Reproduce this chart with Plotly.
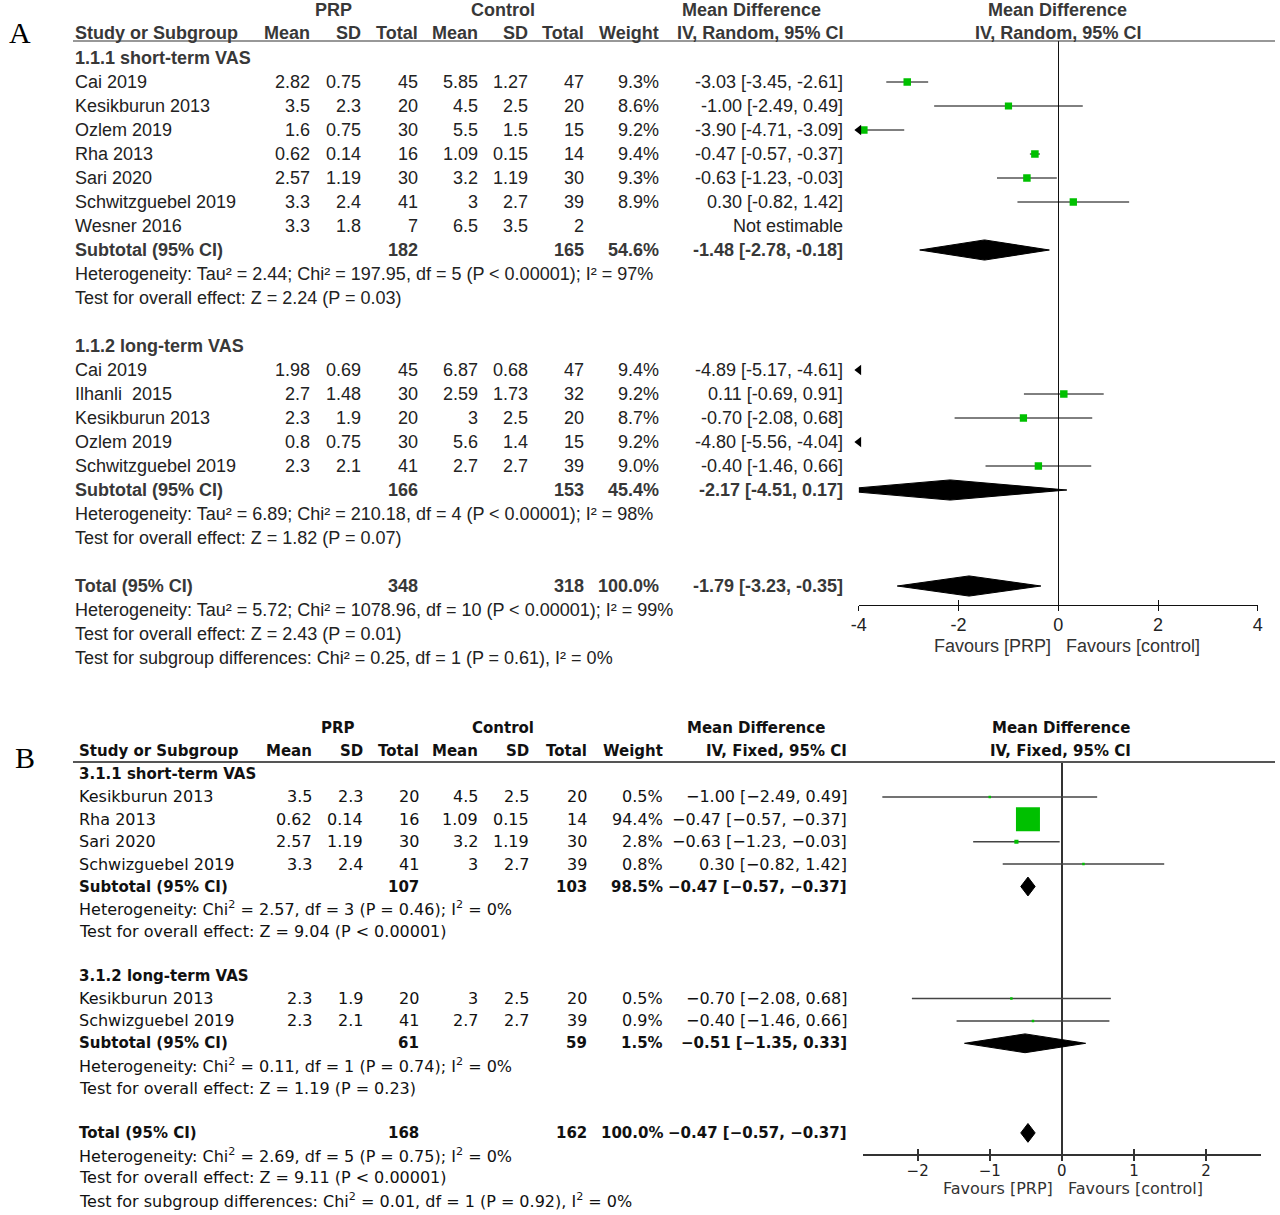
import math
import plotly.graph_objects as go

# ================= DATA =================
# ---- Panel A : random effects ----
A_short_study = ["Cai 2019", "Kesikburun 2013", "Ozlem 2019", "Rha 2013", "Sari 2020",
                 "Schwitzguebel 2019", "Wesner 2016"]
A_short_prp_mean = [2.82, 3.5, 1.6, 0.62, 2.57, 3.3, 3.3]
A_short_prp_sd = [0.75, 2.3, 0.75, 0.14, 1.19, 2.4, 1.8]
A_short_prp_n = [45, 20, 30, 16, 30, 41, 7]
A_short_ctl_mean = [5.85, 4.5, 5.5, 1.09, 3.2, 3, 6.5]
A_short_ctl_sd = [1.27, 2.5, 1.5, 0.15, 1.19, 2.7, 3.5]
A_short_ctl_n = [47, 20, 15, 14, 30, 39, 2]
A_short_weight = [9.3, 8.6, 9.2, 9.4, 9.3, 8.9, None]
A_short_md = [-3.03, -1.00, -3.90, -0.47, -0.63, 0.30, None]
A_short_lo = [-3.45, -2.49, -4.71, -0.57, -1.23, -0.82, None]
A_short_hi = [-2.61, 0.49, -3.09, -0.37, -0.03, 1.42, None]

A_long_study = ["Cai 2019", "Ilhanli\u00a0 2015", "Kesikburun 2013", "Ozlem 2019", "Schwitzguebel 2019"]
A_long_prp_mean = [1.98, 2.7, 2.3, 0.8, 2.3]
A_long_prp_sd = [0.69, 1.48, 1.9, 0.75, 2.1]
A_long_prp_n = [45, 30, 20, 30, 41]
A_long_ctl_mean = [6.87, 2.59, 3, 5.6, 2.7]
A_long_ctl_sd = [0.68, 1.73, 2.5, 1.4, 2.7]
A_long_ctl_n = [47, 32, 20, 15, 39]
A_long_weight = [9.4, 9.2, 8.7, 9.2, 9.0]
A_long_md = [-4.89, 0.11, -0.70, -4.80, -0.40]
A_long_lo = [-5.17, -0.69, -2.08, -5.56, -1.46]
A_long_hi = [-4.61, 0.91, 0.68, -4.04, 0.66]

# subtotal short, subtotal long, total
A_sum_label = ["Subtotal (95% CI)", "Subtotal (95% CI)", "Total (95% CI)"]
A_sum_prp_n = [182, 166, 348]
A_sum_ctl_n = [165, 153, 318]
A_sum_weight = [54.6, 45.4, 100.0]
A_sum_md = [-1.48, -2.17, -1.79]
A_sum_lo = [-2.78, -4.51, -3.23]
A_sum_hi = [-0.18, 0.17, -0.35]

A_groups = ["1.1.1 short-term VAS", "1.1.2 long-term VAS"]
A_stats = [
    "Heterogeneity: Tau² = 2.44; Chi² = 197.95, df = 5 (P &lt; 0.00001); I² = 97%",
    "Test for overall effect: Z = 2.24 (P = 0.03)",
    "Heterogeneity: Tau² = 6.89; Chi² = 210.18, df = 4 (P &lt; 0.00001); I² = 98%",
    "Test for overall effect: Z = 1.82 (P = 0.07)",
    "Heterogeneity: Tau² = 5.72; Chi² = 1078.96, df = 10 (P &lt; 0.00001); I² = 99%",
    "Test for overall effect: Z = 2.43 (P = 0.01)",
    "Test for subgroup differences: Chi² = 0.25, df = 1 (P = 0.61), I² = 0%",
]
A_ticks = [-4, -2, 0, 2, 4]
A_ticktext = ["-4", "-2", "0", "2", "4"]

# ---- Panel B : fixed effects ----
B_short_study = ["Kesikburun 2013", "Rha 2013", "Sari 2020", "Schwizguebel 2019"]
B_short_prp_mean = [3.5, 0.62, 2.57, 3.3]
B_short_prp_sd = [2.3, 0.14, 1.19, 2.4]
B_short_prp_n = [20, 16, 30, 41]
B_short_ctl_mean = [4.5, 1.09, 3.2, 3]
B_short_ctl_sd = [2.5, 0.15, 1.19, 2.7]
B_short_ctl_n = [20, 14, 30, 39]
B_short_weight = [0.5, 94.4, 2.8, 0.8]
B_short_md = [-1.00, -0.47, -0.63, 0.30]
B_short_lo = [-2.49, -0.57, -1.23, -0.82]
B_short_hi = [0.49, -0.37, -0.03, 1.42]

B_long_study = ["Kesikburun 2013", "Schwizguebel 2019"]
B_long_prp_mean = [2.3, 2.3]
B_long_prp_sd = [1.9, 2.1]
B_long_prp_n = [20, 41]
B_long_ctl_mean = [3, 2.7]
B_long_ctl_sd = [2.5, 2.7]
B_long_ctl_n = [20, 39]
B_long_weight = [0.5, 0.9]
B_long_md = [-0.70, -0.40]
B_long_lo = [-2.08, -1.46]
B_long_hi = [0.68, 0.66]

B_sum_label = ["Subtotal (95% CI)", "Subtotal (95% CI)", "Total (95% CI)"]
B_sum_prp_n = [107, 61, 168]
B_sum_ctl_n = [103, 59, 162]
B_sum_weight = [98.5, 1.5, 100.0]
B_sum_md = [-0.47, -0.51, -0.47]
B_sum_lo = [-0.57, -1.35, -0.57]
B_sum_hi = [-0.37, 0.33, -0.37]

B_groups = ["3.1.1 short-term VAS", "3.1.2 long-term VAS"]
B_stats = [
    "Heterogeneity: Chi<sup>2</sup> = 2.57, df = 3 (P = 0.46); I<sup>2</sup> = 0%",
    "Test for overall effect: Z = 9.04 (P &lt; 0.00001)",
    "Heterogeneity: Chi<sup>2</sup> = 0.11, df = 1 (P = 0.74); I<sup>2</sup> = 0%",
    "Test for overall effect: Z = 1.19 (P = 0.23)",
    "Heterogeneity: Chi<sup>2</sup> = 2.69, df = 5 (P = 0.75); I<sup>2</sup> = 0%",
    "Test for overall effect: Z = 9.11 (P &lt; 0.00001)",
    "Test for subgroup differences: Chi<sup>2</sup> = 0.01, df = 1 (P = 0.92), I<sup>2</sup> = 0%",
]
B_ticks = [-2, -1, 0, 1, 2]
B_ticktext = ["\u22122", "\u22121", "0", "1", "2"]

# ================= LAYOUT HELPERS =================
W, H = 1280, 1215
FA = "Liberation Sans, Arial, sans-serif"
FB = "DejaVu Sans, Verdana, sans-serif"
GREEN = "#00c000"
# horizontal compensation of the page capture (observed offset / scale)
X_OFF, X_SCALE = 7.0, 0.99

def px(x):
    return ((x - X_OFF) / X_SCALE) / W

def py(y):
    return 1 - y / H

ann = []

def T(x, y, s, anchor="left", font=FA, size=16, bold=False, color="#222"):
    if bold:
        s = "<b>" + s + "</b>"
    ann.append(dict(x=px(x), y=py(y), xref="paper", yref="paper", text=s, showarrow=False,
                    xanchor=anchor, yanchor="middle", align=anchor, borderpad=0, borderwidth=0,
                    font=dict(family=font, size=size, color=color)))

def g(v):
    return f"{v:g}"

def ci(m, l, h, minus="-"):
    if m is None:
        return "Not estimable"
    return (f"{m:.2f} [{l:.2f}, {h:.2f}]").replace("-", minus)

# panel configs (pixel layout)
PA = dict(font=FA, size=18, bsize=18, name_x=74, cols=[309, 360, 417, 477, 527, 583, 658, 842],
          row0=58, dy=24, minus="-", color="#222", hcolor="#383838",
          h1=10, h2=33, prp_c=333, ctl_c=502, md_c=751, fp_c=1057,
          ci_head="IV, Random, 95% CI", line_y=41, fav_y=646, fav_x=1050,
          dom_x=(858, 1257), dom_y=(41, 605), xr=(-4, 4), tsize=18, standoff=-2)
PB = dict(font=FB, size=16, bsize=15, name_x=78, cols=[311, 362, 418, 477, 528, 586, 662, 846],
          row0=774.5, dy=22.4, minus="\u2212", color="#111", hcolor="#111",
          h1=728, h2=751, prp_c=337, ctl_c=502, md_c=755, fp_c=1060,
          ci_head="IV, Fixed, 95% CI", line_y=762, fav_y=1188, fav_x=1052,
          dom_x=(862, 1260), dom_y=(762, 1154), xr=(-2.76, 2.76), tsize=15, standoff=-3)

def rowy(P, k):
    return P["row0"] + P["dy"] * k

def header(P):
    f, s, c = P["font"], P["bsize"], P["hcolor"]
    T(P["prp_c"], P["h1"], "PRP", "center", f, s, True, c)
    T(P["ctl_c"], P["h1"], "Control", "center", f, s, True, c)
    T(P["md_c"], P["h1"], "Mean Difference", "center", f, s, True, c)
    T(P["fp_c"], P["h1"], "Mean Difference", "center", f, s, True, c)
    T(P["name_x"], P["h2"], "Study or Subgroup", "left", f, s, True, c)
    heads = ["Mean", "SD", "Total", "Mean", "SD", "Total", "Weight", P["ci_head"]]
    for hx, ht in zip(P["cols"], heads):
        T(hx, P["h2"], ht, "right", f, s, True, c)
    T(P["fp_c"], P["h2"], P["ci_head"], "center", f, s, True, c)

def study_rows(P, k0, names, pm, psd, pn, cm, csd, cn, w, md, lo, hi):
    f, s, c = P["font"], P["size"], P["color"]
    for i in range(len(names)):
        y = rowy(P, k0 + i)
        T(P["name_x"], y, names[i], "left", f, s, False, c)
        vals = [g(pm[i]), g(psd[i]), str(pn[i]), g(cm[i]), g(csd[i]), str(cn[i]),
                "" if w[i] is None else f"{w[i]:.1f}%", ci(md[i], lo[i], hi[i], P["minus"])]
        for cx, v in zip(P["cols"], vals):
            if v:
                T(cx, y, v, "right", f, s, False, c)

def summary_row(P, k, j, label, pn, cn, w, md, lo, hi):
    f, s, c = P["font"], P["bsize"], P["hcolor"]
    y = rowy(P, k)
    T(P["name_x"], y, label[j], "left", f, s, True, c)
    T(P["cols"][2], y, str(pn[j]), "right", f, s, True, c)
    T(P["cols"][5], y, str(cn[j]), "right", f, s, True, c)
    T(P["cols"][6], y, f"{w[j]:.1f}%", "right", f, s, True, c)
    T(P["cols"][7], y, ci(md[j], lo[j], hi[j], P["minus"]), "right", f, s, True, c)

def text_row(P, k, s_, bold=False):
    T(P["name_x"], rowy(P, k), s_, "left", P["font"], P["bsize"] if bold else P["size"], bold,
      P["hcolor"] if bold else P["color"])

# ================= TEXT TABLES =================
# Panel A
header(PA)
text_row(PA, 0, A_groups[0], True)
study_rows(PA, 1, A_short_study, A_short_prp_mean, A_short_prp_sd, A_short_prp_n,
           A_short_ctl_mean, A_short_ctl_sd, A_short_ctl_n, A_short_weight,
           A_short_md, A_short_lo, A_short_hi)
summary_row(PA, 8, 0, A_sum_label, A_sum_prp_n, A_sum_ctl_n, A_sum_weight, A_sum_md, A_sum_lo, A_sum_hi)
text_row(PA, 9, A_stats[0])
text_row(PA, 10, A_stats[1])
text_row(PA, 12, A_groups[1], True)
study_rows(PA, 13, A_long_study, A_long_prp_mean, A_long_prp_sd, A_long_prp_n,
           A_long_ctl_mean, A_long_ctl_sd, A_long_ctl_n, A_long_weight,
           A_long_md, A_long_lo, A_long_hi)
summary_row(PA, 18, 1, A_sum_label, A_sum_prp_n, A_sum_ctl_n, A_sum_weight, A_sum_md, A_sum_lo, A_sum_hi)
text_row(PA, 19, A_stats[2])
text_row(PA, 20, A_stats[3])
summary_row(PA, 22, 2, A_sum_label, A_sum_prp_n, A_sum_ctl_n, A_sum_weight, A_sum_md, A_sum_lo, A_sum_hi)
for i in range(3):
    text_row(PA, 23 + i, A_stats[4 + i])

# Panel B
header(PB)
text_row(PB, 0, B_groups[0], True)
study_rows(PB, 1, B_short_study, B_short_prp_mean, B_short_prp_sd, B_short_prp_n,
           B_short_ctl_mean, B_short_ctl_sd, B_short_ctl_n, B_short_weight,
           B_short_md, B_short_lo, B_short_hi)
summary_row(PB, 5, 0, B_sum_label, B_sum_prp_n, B_sum_ctl_n, B_sum_weight, B_sum_md, B_sum_lo, B_sum_hi)
text_row(PB, 6, B_stats[0])
text_row(PB, 7, B_stats[1])
text_row(PB, 9, B_groups[1], True)
study_rows(PB, 10, B_long_study, B_long_prp_mean, B_long_prp_sd, B_long_prp_n,
           B_long_ctl_mean, B_long_ctl_sd, B_long_ctl_n, B_long_weight,
           B_long_md, B_long_lo, B_long_hi)
summary_row(PB, 12, 1, B_sum_label, B_sum_prp_n, B_sum_ctl_n, B_sum_weight, B_sum_md, B_sum_lo, B_sum_hi)
text_row(PB, 13, B_stats[2])
text_row(PB, 14, B_stats[3])
summary_row(PB, 16, 2, B_sum_label, B_sum_prp_n, B_sum_ctl_n, B_sum_weight, B_sum_md, B_sum_lo, B_sum_hi)
for i in range(3):
    text_row(PB, 17 + i, B_stats[4 + i])

# panel letters
T(8, 32, "A", "left", "Liberation Serif, Times New Roman, serif", 30, False, "#000")
T(14, 757, "B", "left", "Liberation Serif, Times New Roman, serif", 30, False, "#000")

# favours labels
for P in (PA, PB):
    T(P["fav_x"], P["fav_y"], "Favours [PRP]", "right", P["font"], P["size"], False, "#333")
    T(P["fav_x"] + 15, P["fav_y"], "Favours [control]", "left", P["font"], P["size"], False, "#333")

# ================= FOREST PLOTS =================
fig = go.Figure()

def forest(xa, ya, ks, md, lo, hi, w, xmin, sizefn, lc, lw):
    xs, ys, mx, my, ms, ax, ay = [], [], [], [], [], [], []
    for k, m, l, h, ww in zip(ks, md, lo, hi, w):
        if m is None:
            continue
        xs += [l, h, None]
        ys += [k, k, None]
        mx.append(m)
        my.append(k)
        ms.append(sizefn(ww))
        if l < xmin:
            ax.append(xmin)
            ay.append(k)
    fig.add_trace(go.Scatter(x=xs, y=ys, mode="lines", line=dict(color=lc, width=lw),
                             xaxis=xa, yaxis=ya, hoverinfo="skip"))
    fig.add_trace(go.Scatter(x=mx, y=my, mode="markers",
                             marker=dict(symbol="square", size=ms, color=GREEN, opacity=1,
                                         line=dict(width=0)),
                             xaxis=xa, yaxis=ya))
    if ax:
        fig.add_trace(go.Scatter(x=ax, y=ay, mode="markers", cliponaxis=False,
                                 marker=dict(symbol="triangle-left", size=9, color="black", opacity=1),
                                 xaxis=xa, yaxis=ya))

def diamonds(xa, ya, ks, md, lo, hi, hh):
    for k, m, l, h in zip(ks, md, lo, hi):
        fig.add_trace(go.Scatter(x=[l, m, h, m, l], y=[k, k - hh, k, k + hh, k], mode="lines",
                                 fill="toself", fillcolor="black", line=dict(color="black", width=1),
                                 xaxis=xa, yaxis=ya, hoverinfo="skip"))

# Panel A
forest("x", "y", list(range(1, 8)), A_short_md, A_short_lo, A_short_hi, A_short_weight, -4,
       lambda ww: 7.5 * math.sqrt(ww / 9.3), "black", 1)
forest("x", "y", list(range(13, 18)), A_long_md, A_long_lo, A_long_hi, A_long_weight, -4,
       lambda ww: 7.5 * math.sqrt(ww / 9.3), "black", 1)
diamonds("x", "y", [8, 18, 22], A_sum_md, A_sum_lo, A_sum_hi, 0.42)

# Panel B
forest("x2", "y2", [1, 2, 3, 4], B_short_md, B_short_lo, B_short_hi, B_short_weight, -2.76,
       lambda ww: max(2.5, 24 * math.sqrt(ww / 94.4)), "#444", 1.5)
forest("x2", "y2", [10, 11], B_long_md, B_long_lo, B_long_hi, B_long_weight, -2.76,
       lambda ww: max(2.5, 24 * math.sqrt(ww / 94.4)), "#444", 1.5)
diamonds("x2", "y2", [5, 12, 16], B_sum_md, B_sum_lo, B_sum_hi, 0.42)

# dummy traces for overlay tick axes
fig.add_trace(go.Scatter(x=[], y=[], xaxis="x3", yaxis="y"))
fig.add_trace(go.Scatter(x=[], y=[], xaxis="x4", yaxis="y2"))

def yr(P):
    top, bot = P["dom_y"]
    return [(bot - P["row0"]) / P["dy"], (top - P["row0"]) / P["dy"]]

def xdom(P):
    return [px(P["dom_x"][0]), min(1.0, px(P["dom_x"][1]))]

def ydom(P):
    return [py(P["dom_y"][1]), py(P["dom_y"][0])]

def xax(P, tv, tt, lc, lw):
    return dict(domain=xdom(P), range=list(P["xr"]), showgrid=False, zeroline=True,
                zerolinecolor=lc, zerolinewidth=lw, showline=True, linecolor=lc, linewidth=lw,
                ticks="outside", ticklen=5, tickcolor=lc, tickwidth=lw,
                ticklabelstandoff=P["standoff"],
                tickvals=tv, ticktext=tt, tickfont=dict(family=P["font"], size=P["tsize"], color="#222"),
                fixedrange=True)

def xov(P, base, anchor, tv, lc, lw):
    return dict(overlaying=base, anchor=anchor, range=list(P["xr"]), showgrid=False, zeroline=False,
                showline=False, ticks="inside", ticklen=5, tickcolor=lc, tickwidth=lw,
                tickvals=tv, showticklabels=False, fixedrange=True)

def yax(P):
    return dict(domain=ydom(P), range=yr(P), visible=False, fixedrange=True)

fig.update_layout(
    width=W, height=H, margin=dict(l=0, r=0, t=0, b=0),
    paper_bgcolor="white", plot_bgcolor="white", showlegend=False,
    xaxis=dict(anchor="y", **xax(PA, A_ticks, A_ticktext, "#111", 1)),
    yaxis=dict(anchor="x", **yax(PA)),
    xaxis2=dict(anchor="y2", **xax(PB, B_ticks, B_ticktext, "#333", 1.5)),
    yaxis2=dict(anchor="x2", **yax(PB)),
    xaxis3=xov(PA, "x", "y", A_ticks, "#111", 1),
    xaxis4=xov(PB, "x2", "y2", B_ticks, "#333", 1.5),
    annotations=ann,
    shapes=[
        dict(type="line", xref="paper", yref="paper", x0=px(72), x1=1.0,
             y0=py(PA["line_y"]), y1=py(PA["line_y"]), line=dict(color="#333", width=1.2)),
        dict(type="line", xref="paper", yref="paper", x0=px(72), x1=1.0,
             y0=py(PB["line_y"]), y1=py(PB["line_y"]), line=dict(color="#555", width=1.8)),
    ],
)

fig.write_html("out.html", config={"displayModeBar": False},
               post_script="document.body.style.margin='0px';")
